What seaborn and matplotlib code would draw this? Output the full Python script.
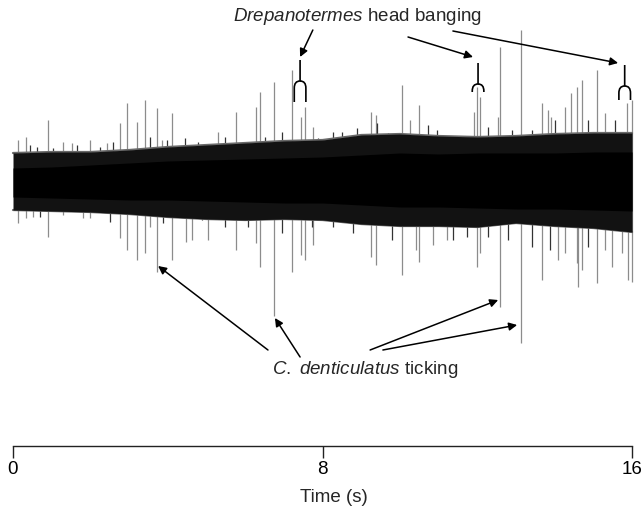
import numpy as np
import matplotlib
matplotlib.use("Agg")
import matplotlib.pyplot as plt
from matplotlib.path import Path
from matplotlib.patches import PathPatch
import seaborn as sns

# ---------------- data ----------------
# envelope of the continuous background signal, sampled every second (arbitrary amplitude units)
env_time = [0, 1, 2, 3, 4, 5, 6, 7, 8, 9, 10, 11, 12, 13, 14, 15, 16]
fringe_top = [0.29, 0.30, 0.30, 0.32, 0.35, 0.37, 0.39, 0.41, 0.42, 0.47, 0.48, 0.46, 0.45, 0.46, 0.48, 0.49, 0.49]
fringe_bottom = [0.28, 0.29, 0.30, 0.32, 0.35, 0.37, 0.38, 0.37, 0.38, 0.42, 0.44, 0.44, 0.45, 0.41, 0.44, 0.46, 0.50]
core_top = [0.14, 0.15, 0.17, 0.19, 0.21, 0.22, 0.23, 0.24, 0.25, 0.27, 0.29, 0.28, 0.29, 0.29, 0.29, 0.30, 0.30]
core_bottom = [0.15, 0.16, 0.17, 0.18, 0.18, 0.19, 0.20, 0.21, 0.21, 0.23, 0.25, 0.25, 0.26, 0.27, 0.27, 0.28, 0.29]

# large transients (ticks / bangs) sticking far out of the background
spike_time = [0.13, 0.34, 0.52, 0.90, 1.29, 1.52, 1.81, 1.99, 2.43, 2.76,
              2.95, 3.20, 3.41, 3.54, 3.72, 3.85, 4.11, 4.47, 4.63, 5.04,
              5.30, 5.76, 6.28, 6.38, 6.74, 7.21, 7.44, 7.55, 7.75, 9.25,
              9.38, 10.05, 10.26, 10.41, 10.49, 10.85, 11.21, 11.91, 11.99, 12.07,
              12.53, 12.58, 13.13, 13.67, 13.82, 13.90, 14.08, 14.26, 14.42, 14.57,
              14.60, 14.70, 15.09, 15.30, 15.48, 15.74, 15.87, 15.89, 16.0]
spike_top = [0.42, 0.45, 0, 0.62, 0.40, 0.39, 0, 0.42, 0.39, 0.59,
             0.79, 0.60, 0.82, 0, 0.74, 0.42, 0.69, 0, 0, 0,
             0.50, 0.70, 0.75, 0.90, 1.00, 1.12, 0.65, 0.75, 0.55, 0.70,
             0.67, 0.97, 0.62, 0, 0.77, 0, 0, 0.70, 0.95, 0.85,
             0.65, 1.35, 1.52, 0.79, 0.72, 0.65, 0, 0.75, 0.89, 0.95,
             0, 1.02, 1.12, 0.69, 0, 0, 0.79, 0, 0.82]
spike_bottom = [0.41, 0.36, 0.35, 0.55, 0.33, 0, 0.36, 0.36, 0, 0.56,
                0.68, 0.78, 0.71, 0.45, 0.90, 0, 0.78, 0.60, 0.58, 0.58,
                0, 0.68, 0.61, 0.85, 1.34, 0.90, 0.73, 0.78, 0.63, 0.75,
                0.83, 0.93, 0, 0.68, 0.80, 0.63, 0.58, 0, 0.85, 0.71,
                0, 1.25, 1.61, 0.98, 0, 0, 0.78, 0.71, 0, 0.81,
                1.05, 0.88, 1.01, 0.68, 0.85, 0.71, 0, 0.98, 1.00]

# smaller dark transients that make the ragged edge of the band
minor_time = [0.44, 0.62, 0.70, 1.03, 1.65, 2.25, 2.51, 2.58, 3.54, 3.88,
              3.98, 4.45, 4.78, 4.89, 5.48, 6.00, 6.07, 6.51, 6.95, 7.73,
              7.88, 8.27, 8.50, 8.79, 8.89, 9.41, 9.69, 9.80, 10.73, 10.96,
              11.37, 11.55, 11.73, 12.28, 12.79, 12.90, 13.41, 13.88, 14.01, 14.86,
              15.56]
minor_top = [0.37, 0.35, 0, 0.34, 0.37, 0.35, 0, 0.40, 0.45, 0,
             0.42, 0.44, 0.40, 0, 0.45, 0.40, 0, 0.45, 0.50, 0,
             0.44, 0.50, 0.50, 0, 0.54, 0.59, 0.49, 0, 0.57, 0.52,
             0, 0.45, 0, 0.55, 0, 0.52, 0.52, 0, 0.62, 0.62,
             0.62]
minor_bottom = [0, 0, 0.35, 0, 0, 0, 0.40, 0, 0, 0.41,
                0, 0, 0, 0.38, 0.45, 0, 0.45, 0, 0.51, 0.45,
                0, 0.45, 0, 0.51, 0, 0, 0, 0.58, 0, 0,
                0.58, 0, 0.55, 0.55, 0.58, 0, 0.65, 0.68, 0, 0.65,
                0]

# head-banging bursts marked with fork symbols
bang_time = [7.42, 12.02, 15.81]
bang_top = [1.22, 1.19, 1.17]
bang_bottom = [0.80, 0.90, 0.82]

tick_values = [0, 8, 16]
tick_labels = ["0", "8", "16"]

# ---------------- style ----------------
sns.set_theme(style="white")
plt.rcParams["font.family"] = ["Liberation Sans", "DejaVu Sans"]
plt.rcParams["mathtext.fontset"] = "custom"
plt.rcParams["mathtext.rm"] = "Liberation Sans"
plt.rcParams["mathtext.it"] = "Liberation Sans:italic"

fig = plt.figure(figsize=(6.43, 5.14), dpi=100)
ax = fig.add_axes([0, 0, 1, 1])
ax.set_facecolor("white")

# spikes first, background band drawn over them
ax.vlines(spike_time, [-b for b in spike_bottom], spike_top, colors="#8c8c8c", lw=0.9, zorder=1)
ax.vlines(minor_time, [-b for b in minor_bottom], minor_top, colors="#333333", lw=0.9, zorder=1)

t = np.array(env_time, dtype=float)
ft = np.array(fringe_top); fb = np.array(fringe_bottom)
ct = np.array(core_top); cb = np.array(core_bottom)
sns.lineplot(x=t, y=ft, ax=ax, color="#6a6a6a", lw=1.6, zorder=2)
sns.lineplot(x=t, y=-fb, ax=ax, color="#6a6a6a", lw=1.6, zorder=2)
ax.fill_between(t, -fb, ft, color="#121212", lw=0, zorder=3)
ax.fill_between(t, -cb, ct, color="black", lw=0, zorder=4)

# fork symbols
for bt, top, bot in zip(bang_time, bang_top, bang_bottom):
    hw = 0.15
    fork = top - 0.21
    verts = [(bt, top), (bt, fork),
             (bt - hw, fork), (bt - hw, fork - 0.07), (bt - hw, bot)]
    codes = [Path.MOVETO, Path.LINETO, Path.CURVE3, Path.CURVE3, Path.LINETO]
    ax.add_patch(PathPatch(Path(verts, codes), fill=False, lw=1.2, color="black", zorder=5))
    verts = [(bt, fork), (bt + hw, fork), (bt + hw, fork - 0.07), (bt + hw, bot)]
    codes = [Path.MOVETO, Path.CURVE3, Path.CURVE3, Path.LINETO]
    ax.add_patch(PathPatch(Path(verts, codes), fill=False, lw=1.2, color="black", zorder=5))

ap = dict(arrowstyle="-|>", color="black", lw=1.1, mutation_scale=12, shrinkA=0, shrinkB=0)
# annotations
ax.text(8.89, 1.61, r"$\it{Drepanotermes}$ head banging", ha="center", va="baseline", fontsize=13.5)
for (x0, y0), (x1, y1) in [((7.75, 1.52), (7.42, 1.25)),
                           ((10.21, 1.45), (11.89, 1.25)),
                           ((11.37, 1.51), (15.64, 1.19))]:
    ax.annotate("", xy=(x1, y1), xytext=(x0, y0), arrowprops=ap)

ax.text(9.11, -1.92, r"$\it{C.\ denticulatus}$ ticking", ha="center", va="baseline", fontsize=13.5)
for (x0, y0), (x1, y1) in [((6.59, -1.68), (3.75, -0.84)),
                           ((7.42, -1.75), (6.77, -1.36)),
                           ((9.23, -1.68), (12.54, -1.18)),
                           ((9.56, -1.68), (13.03, -1.43))]:
    ax.annotate("", xy=(x1, y1), xytext=(x0, y0), arrowprops=ap)

# time axis
ax.set_xlim(-13 / 38.69, (643 - 13) / 38.69)
ax.set_ylim(-3.32, 1.82)
for s in ["left", "right", "top"]:
    ax.spines[s].set_visible(False)
ax.spines["bottom"].set_position(("data", -2.64))
ax.spines["bottom"].set_bounds(0, 16)
ax.spines["bottom"].set_color("#222222")
ax.spines["bottom"].set_linewidth(1.0)
ax.set_xticks(tick_values)
ax.set_xticklabels(tick_labels, fontsize=13.5)
ax.tick_params(axis="x", direction="out", length=8.5, width=1.0, color="#222222", pad=2,
               bottom=True, labelcolor="black")
ax.set_yticks([])
ax.text(8.3, -3.15, "Time (s)", ha="center", va="center", fontsize=13.5)

fig.savefig("out.png", dpi=100)
